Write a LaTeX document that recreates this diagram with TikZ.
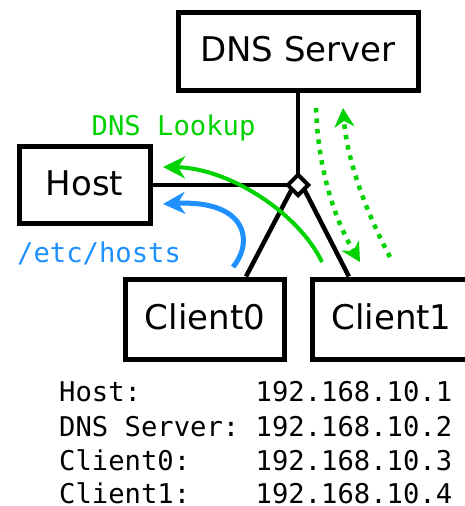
\documentclass[tikz,border=0pt]{standalone}
\usepackage{fontspec}
\setmainfont{DejaVu Sans}
\newfontfamily\monofont{DejaVu Sans Mono}
\usetikzlibrary{arrows.meta,shapes.geometric,backgrounds,calc}
\definecolor{lookgreen}{RGB}{0,210,0}
\definecolor{hostblue}{RGB}{30,144,255}
\begin{document}
\begin{tikzpicture}[x=1pt,y=-1pt,
  box/.style={draw, line width=5pt, rectangle, inner sep=0pt,
    font=\fontsize{34}{40}\selectfont, text height=25pt, text depth=4pt},
  link/.style={line width=4.5pt},
  hubnode/.style={diamond, draw, fill=white, line width=4pt, inner sep=0pt,
    minimum width=22pt, minimum height=22pt},
  flow/.style={line width=4pt, lookgreen, -{Stealth[length=22pt,width=22pt,inset=7pt]}},
  hostflow/.style={line width=5pt, hostblue, -{Stealth[length=22pt,width=22pt,inset=7pt]}},
  query/.style={line width=4.5pt, lookgreen, dash pattern=on 4.5pt off 6pt,
    -{Stealth[length=19pt,width=20pt,inset=6pt]}},
  mono/.style={inner sep=0pt, anchor=base west, font=\monofont\fontsize{27.2}{33}\selectfont},
]
\useasboundingbox (0,0) rectangle (465,506);

\node[box, minimum width=240pt, minimum height=78pt] (dns) at (298,51) {DNS Server};
\node[box, minimum width=131pt, minimum height=77pt] (host) at (84.5,185) {Host};
\node[box, minimum width=159pt, minimum height=80.5pt] (c0) at (205,319.25) {Client0};
\node[box, minimum width=159pt, minimum height=80.5pt] (c1) at (391.5,319.25) {Client1};
\node[hubnode] (hub) at (298,185) {};

\begin{scope}[on background layer]
  \draw[link] (dns.south) -- (hub.center);
  \draw[link] (host.east) -- (hub.center);
  \draw[link] ($(hub.center)+(-4,0)$) -- ($(c0.north west)!0.75!(c0.north east)$);
  \draw[link] ($(hub.center)+(4,0)$) -- ($(c1.north west)!0.24!(c1.north east)$);
\end{scope}

\coordinate (gstart) at (322,262);
\coordinate (gend) at (163,167);
\draw[flow] (gstart) .. controls (298,212) and (228,168) .. (gend);

\coordinate (bstart) at (233,267);
\coordinate (bend) at (163,204);
\draw[hostflow] (bstart) .. controls (255,240) and (245,200) .. (bend);

\coordinate (qstart) at (316,108);
\coordinate (qend) at (360,262);
\draw[query] (qstart) .. controls (318,170) and (335,220) .. (qend);

\coordinate (rstart) at (390,257);
\coordinate (rend) at (343,108);
\draw[query] (rstart) .. controls (366,212) and (347,160) .. (rend);

\node[mono, text=lookgreen] (lookup) at (91.5,135) {DNS Lookup};
\node[mono, text=hostblue] (etchosts) at (17,262) {/etc/hosts};

\node[mono] (n1) at (59,401.7) {Host:};
\node[mono] (a1) at (255.5,401.7) {192.168.10.1};
\node[mono] (n2) at (59,436.7) {DNS Server:};
\node[mono] (a2) at (255.5,436.7) {192.168.10.2};
\node[mono] (n3) at (59,470) {Client0:};
\node[mono] (a3) at (255.5,470) {192.168.10.3};
\node[mono] (n4) at (59,503.3) {Client1:};
\node[mono] (a4) at (255.5,503.3) {192.168.10.4};
\end{tikzpicture}
\end{document}
